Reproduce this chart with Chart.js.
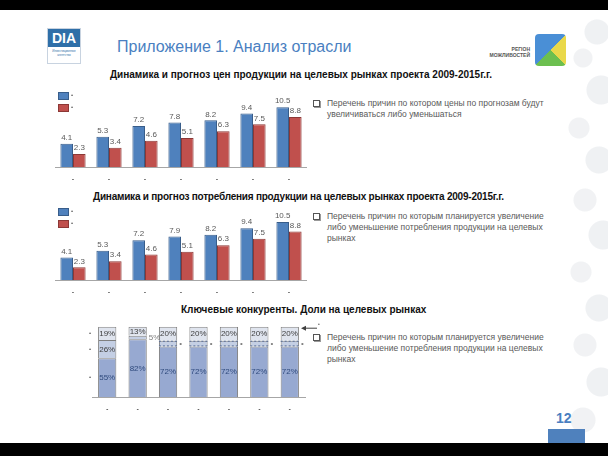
<!DOCTYPE html>
<html>
<head>
<meta charset="utf-8">
<script src="https://cdn.jsdelivr.net/npm/chart.js@4.4.1/dist/chart.umd.min.js"></script>
<style>
  body { margin: 0; width: 608px; height: 456px; position: relative; overflow: hidden; background: #fff;
         font-family: "Liberation Sans", Arial, sans-serif; }
  .abs { position: absolute; }
  .bar-top { left: 0; top: 0; width: 608px; height: 10px; background: #000; }
  .bar-bottom { left: 0; top: 443px; width: 608px; height: 13px; background: #000; }
  .tree { left: 555px; top: 10px; width: 53px; height: 433px; opacity: 0.8;
          background:
            radial-gradient(circle at 42px 22px, #eceef1 0 12px, transparent 13px),
            radial-gradient(circle at 28px 48px, #eef0f2 0 9px, transparent 10px),
            radial-gradient(circle at 46px 80px, #eceef1 0 14px, transparent 15px),
            radial-gradient(circle at 24px 118px, #eef0f2 0 10px, transparent 11px),
            radial-gradient(circle at 44px 150px, #eceef1 0 13px, transparent 14px),
            radial-gradient(circle at 30px 190px, #eef0f2 0 11px, transparent 12px),
            radial-gradient(circle at 48px 225px, #eceef1 0 14px, transparent 15px),
            radial-gradient(circle at 26px 262px, #eef0f2 0 10px, transparent 11px),
            radial-gradient(circle at 44px 298px, #eceef1 0 13px, transparent 14px),
            radial-gradient(circle at 30px 335px, #eef0f2 0 11px, transparent 12px),
            radial-gradient(circle at 46px 372px, #eceef1 0 14px, transparent 15px),
            radial-gradient(circle at 28px 410px, #eef0f2 0 12px, transparent 13px); }
  .main-title { left: 117px; top: 38px; font-size: 16px; color: #4a7fc1; }
  .chart-title { font-size: 10px; font-weight: bold; color: #111; white-space: nowrap; }
  .note { left: 313px; font-size: 8.5px; color: #595959; line-height: 11px; width: 250px; padding-left: 14px; white-space: nowrap; }
  .note:before { content: ""; position: absolute; left: 0; top: 2px; width: 5px; height: 5px;
                 border: 1px solid #555; box-shadow: 1px 1px 0 #999; }
  .logo-dia { left: 47px; top: 28px; width: 32px; height: 34px; border: 1px solid #c8d3e0; background: #fff; }
  .logo-dia .top { height: 18px; background: #2f6fa8; color: #fff; font-weight: bold; font-size: 14px;
                   text-align: center; line-height: 18px; }
  .logo-dia .sub { font-size: 3px; color: #2f6fa8; text-align: center; line-height: 4px; margin-top: 2px; }
  .region-text { left: 488px; top: 46px; font-size: 5px; font-weight: bold; color: #555; text-align: right; width: 42px; line-height: 6px; }
  .region-logo { left: 535px; top: 34px; width: 31px; height: 32px; border-radius: 4px; overflow: hidden;
                 background:
                   linear-gradient(135deg, #4a8fd6 0 50%, transparent 50%),
                   linear-gradient(225deg, #e9d84a 0 50%, transparent 50%),
                   linear-gradient(315deg, #6cbf4f 0 50%, transparent 50%),
                   #d9473f; }
  .page-num { left: 556px; top: 410px; font-size: 14px; font-weight: bold; color: #4a7fc1; }
  .page-bar { left: 548px; top: 429px; width: 37px; height: 14px; background: #4f81bd; }
  .chart-box { position: absolute; }
</style>
</head>
<body>
<div class="abs tree"></div>
<div class="abs bar-top"></div>
<div class="abs bar-bottom"></div>

<div class="abs logo-dia"><div class="top">DIA</div><div class="sub">Инвестиционное<br>агентство</div></div>
<div class="abs main-title">Приложение 1. Анализ отрасли</div>
<div class="abs region-text">РЕГІОН<br>МОЖЛИВОСТЕЙ</div>
<div class="abs region-logo"></div>

<div class="abs chart-title" style="left:110px; top:69px;">Динамика и прогноз цен продукции на целевых рынках проекта 2009-2015г.г.</div>
<div class="abs chart-title" style="left:93px; top:191px; letter-spacing:-0.22px;">Динамика и прогноз потребления продукции на целевых рынках проекта 2009-2015г.г.</div>
<div class="abs chart-title" style="left:181px; top:304px;">Ключевые конкуренты. Доли на целевых рынках</div>

<div class="abs note" style="top:98px;">Перечень причин по котором цены по прогнозам будут<br>увеличиваться либо уменьшаться</div>
<div class="abs note" style="top:211px;">Перечень причин по которым планируется увеличение<br>либо уменьшение потребления продукции на целевых<br>рынках</div>
<div class="abs note" style="top:332px;">Перечень причин по которым планируется увеличение<br>либо уменьшение потребления продукции на целевых<br>рынках</div>

<div class="chart-box" style="left:55px; top:85px; width:252px; height:95px;"><canvas id="priceChart"></canvas></div>
<div class="chart-box" style="left:55px; top:205px; width:252px; height:88px;"><canvas id="consChart"></canvas></div>
<div class="chart-box" style="left:80px; top:315px; width:245px; height:95px;"><canvas id="shareChart"></canvas></div>

<div class="abs page-num">12</div>
<div class="abs page-bar"></div>

<script>
// categories (years shown as dots in the original)
const years = ['•', '•', '•', '•', '•', '•', '•'];

// price dynamics
const priceBlue = [4.1, 5.3, 7.2, 7.8, 8.2, 9.4, 10.5];
const priceRed = [2.3, 3.4, 4.6, 5.1, 6.3, 7.5, 8.8];

// consumption dynamics
const consBlue = [4.1, 5.3, 7.2, 7.9, 8.2, 9.4, 10.5];
const consRed = [2.3, 3.4, 4.6, 5.1, 6.3, 7.5, 8.8];

// competitor shares, %
const shareMain = [55, 82, 72, 72, 72, 72, 72];
const shareMid = [26, 5, 8, 8, 8, 8, 8];
const shareTop = [19, 13, 20, 20, 20, 20, 20];
const midText = ['26%', '5%', '•', '•', '•', '•', '•'];

const BLUE = '#4f81bd', BLUE_LINE = '#385d8a';
const RED = '#c0504d', RED_LINE = '#8c3836';

// value labels above bars
const valueLabels = {
    id: 'valueLabels',
    afterDatasetsDraw(chart) {
        const ctx = chart.ctx;
        ctx.save();
        ctx.font = '8px "Liberation Sans", Arial, sans-serif';
        ctx.fillStyle = '#595959';
        ctx.textAlign = 'center';
        ctx.textBaseline = 'bottom';
        chart.data.datasets.forEach((ds, i) => {
            chart.getDatasetMeta(i).data.forEach((el, j) => {
                ctx.fillText(ds.data[j].toFixed(1), el.x, el.y - 2);
            });
        });
        ctx.restore();
    }
};

// little legend boxes in the top-left corner
const cornerLegend = {
    id: 'cornerLegend',
    afterDraw(chart, args, opts) {
        const ctx = chart.ctx;
        ctx.save();
        chart.data.datasets.forEach((ds, i) => {
            const y = opts.top + i * opts.step;
            ctx.fillStyle = ds.backgroundColor;
            ctx.strokeStyle = ds.borderColor;
            ctx.lineWidth = 1;
            ctx.fillRect(3, y, 10, 7);
            ctx.strokeRect(3.5, y + 0.5, 10, 7);
            ctx.fillStyle = '#595959';
            ctx.font = '6px "Liberation Sans", Arial, sans-serif';
            ctx.textBaseline = 'middle';
            ctx.fillText('•', 16, y + 3);
        });
        ctx.restore();
    }
};

function barChart(id, blue, red, legendTop, padTop) {
    return new Chart(document.getElementById(id), {
        type: 'bar',
        data: {
            labels: years,
            datasets: [
                { data: blue, backgroundColor: BLUE, borderColor: BLUE_LINE, borderWidth: 1, borderSkipped: 'bottom' },
                { data: red, backgroundColor: RED, borderColor: RED_LINE, borderWidth: 1, borderSkipped: 'bottom' }
            ]
        },
        options: {
            responsive: true,
            maintainAspectRatio: false,
            animation: false,
            layout: { padding: { top: padTop, left: 0, right: 0, bottom: 0 } },
            datasets: { bar: { categoryPercentage: 0.7, barPercentage: 1.0 } },
            plugins: {
                legend: { display: false },
                tooltip: { enabled: false },
                cornerLegend: { top: legendTop, step: 12 }
            },
            scales: {
                x: {
                    grid: { display: false },
                    border: { display: true, color: '#a6a6a6' },
                    ticks: { color: '#595959', font: { size: 7 }, padding: 1 },
                    afterFit: s => { s.height = 13; }
                },
                y: { display: false, min: 0, max: 12 }
            }
        },
        plugins: [valueLabels, cornerLegend]
    });
}

barChart('priceChart', priceBlue, priceRed, 7, 13.7);
barChart('consChart', consBlue, consRed, 3, 8.8);

// labels inside the stacked share bars, side dots and the arrow
const shareLabels = {
    id: 'shareLabels',
    afterDatasetsDraw(chart) {
        const ctx = chart.ctx;
        const area = chart.chartArea;
        ctx.save();
        ctx.font = '8px "Liberation Sans", Arial, sans-serif';
        ctx.textBaseline = 'middle';
        const colors = ['#2f4a7d', '#404040', '#404040'];
        chart.data.datasets.forEach((ds, i) => {
            chart.getDatasetMeta(i).data.forEach((el, j) => {
                const h = Math.abs(el.base - el.y);
                const cy = (el.y + el.base) / 2;
                const txt = i === 1 ? midText[j] : ds.data[j] + '%';
                ctx.fillStyle = colors[i];
                if (h < 6) {
                    ctx.textAlign = 'left';
                    ctx.fillStyle = '#7f7f7f';
                    ctx.fillText(txt, el.x + el.width / 2 + 2, cy);
                } else {
                    ctx.textAlign = 'center';
                    ctx.fillText(txt, el.x, cy + 0.5);
                }
                // dashed separators on the thin middle segments
                if (i === 1 && h >= 4 && h < 8) {
                    ctx.strokeStyle = '#5a6f9a';
                    ctx.setLineDash([2, 2]);
                    ctx.beginPath();
                    ctx.moveTo(el.x - el.width / 2, el.y + 0.5);
                    ctx.lineTo(el.x + el.width / 2, el.y + 0.5);
                    ctx.moveTo(el.x - el.width / 2, el.base - 0.5);
                    ctx.lineTo(el.x + el.width / 2, el.base - 0.5);
                    ctx.stroke();
                    ctx.setLineDash([]);
                }
            });
            // series dots to the left of the first bar
            const first = chart.getDatasetMeta(i).data[0];
            ctx.fillStyle = '#595959';
            ctx.textAlign = 'center';
            ctx.font = '6px "Liberation Sans", Arial, sans-serif';
            ctx.fillText('•', area.left - 2, (first.y + first.base) / 2);
            ctx.font = '8px "Liberation Sans", Arial, sans-serif';
        });
        // arrow pointing at the last bar
        const ay = area.top + 1.5;
        ctx.strokeStyle = '#404040';
        ctx.fillStyle = '#404040';
        ctx.lineWidth = 1;
        ctx.beginPath();
        ctx.moveTo(area.right + 12, ay);
        ctx.lineTo(area.right - 2, ay);
        ctx.stroke();
        ctx.beginPath();
        ctx.moveTo(area.right - 4, ay);
        ctx.lineTo(area.right + 1, ay - 2.5);
        ctx.lineTo(area.right + 1, ay + 2.5);
        ctx.closePath();
        ctx.fill();
        ctx.font = '5px "Liberation Sans", Arial, sans-serif';
        ctx.fillStyle = '#595959';
        ctx.fillText('•', area.right + 14, ay - 4);
        ctx.restore();
    }
};

new Chart(document.getElementById('shareChart'), {
    type: 'bar',
    data: {
        labels: years,
        datasets: [
            { data: shareMain, backgroundColor: '#97a9d1', borderColor: '#7f7f7f', borderWidth: 1 },
            { data: shareMid, backgroundColor: '#c4cfe4', borderColor: '#7f7f7f', borderWidth: 1 },
            { data: shareTop, backgroundColor: '#dfe4ee', borderColor: '#7f7f7f', borderWidth: 1 }
        ]
    },
    options: {
        responsive: true,
        maintainAspectRatio: false,
        animation: false,
        layout: { padding: { top: 11.7, left: 12, right: 20, bottom: 0 } },
        datasets: { bar: { categoryPercentage: 0.6, barPercentage: 1.0 } },
        plugins: { legend: { display: false }, tooltip: { enabled: false } },
        scales: {
            x: {
                stacked: true,
                grid: { display: false },
                border: { display: true, color: '#a6a6a6' },
                ticks: { color: '#595959', font: { size: 7 }, padding: 1 },
                afterFit: s => { s.height = 13; }
            },
            y: { stacked: true, display: false, min: 0, max: 100 }
        }
    },
    plugins: [shareLabels]
});
</script>
</body>
</html>
